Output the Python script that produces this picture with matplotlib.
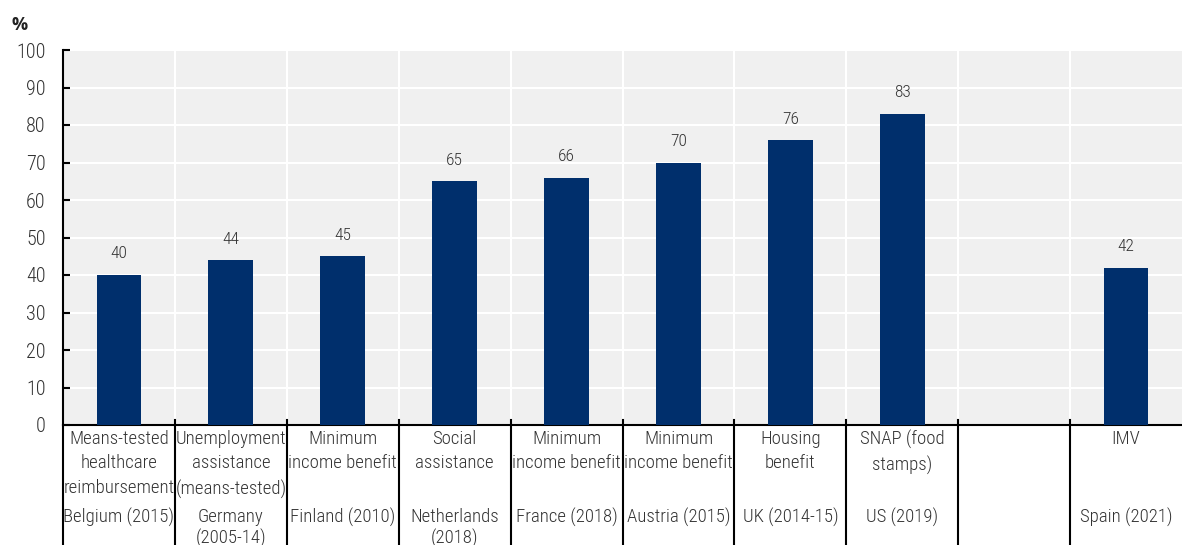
import numpy as np
import matplotlib
matplotlib.use("Agg")
import matplotlib.pyplot as plt

names = ["Means-tested\nhealthcare\nreimbursement", "Unemployment\nassistance\n(means-tested)",
         "Minimum\nincome benefit", "Social\nassistance", "Minimum\nincome benefit",
         "Minimum\nincome benefit", "Housing\nbenefit", "SNAP (food\nstamps)", "", "IMV"]
countries = ["Belgium (2015)", "Germany\n(2005-14)", "Finland (2010)", "Netherlands\n(2018)",
             "France (2018)", "Austria (2015)", "UK (2014-15)", "US (2019)", "", "Spain (2021)"]
values = [40, 44, 45, 65, 66, 70, 76, 83, None, 42]

plt.rcParams["font.family"] = ["Roboto Condensed", "DejaVu Sans"]
plt.rcParams["font.weight"] = "light"

bar_col = "#002f6c"
txt_col = "#333333"

fig = plt.figure(figsize=(11.82, 5.45), dpi=100)
ax = fig.add_axes([63 / 1182, 1 - 425 / 545, 1 - 63 / 1182, 375 / 545])
ax.set_facecolor("#f0f0f0")

n = len(values)
x = np.arange(n)
for i, v in enumerate(values):
    if v is None:
        continue
    ax.bar(x[i], v, width=0.4, color=bar_col, zorder=3)
    ax.text(x[i], v + 3.6, str(v), ha="center", va="bottom", fontsize=12.5, color=txt_col)

ax.set_xlim(-0.5, n - 0.5)
ax.set_ylim(0, 100)
ax.set_yticks(np.arange(0, 101, 10))
ax.tick_params(axis="y", direction="in", length=5, width=1.5, labelsize=14.5, labelcolor=txt_col, pad=12.5)
ax.set_xticks([])
ax.set_xticks(np.arange(0.5, n - 0.5), minor=True)
ax.tick_params(axis="x", which="minor", length=0)
ax.grid(True, axis="y", color="white", linewidth=1.5, zorder=1)
ax.grid(True, axis="x", which="minor", color="white", linewidth=1.5, zorder=1)
for s in ["top", "right"]:
    ax.spines[s].set_visible(False)
ax.spines["left"].set_linewidth(1.5)
ax.spines["bottom"].set_linewidth(1.5)

# separators running below the axis between categories
trans = ax.get_xaxis_transform()
for b in np.arange(0.5, n - 0.5):
    ax.plot([b, b], [0.013, -0.4], transform=trans, color="black", lw=1.5, clip_on=False)
ax.plot([-0.5, -0.5], [0, -0.4], transform=trans, color="black", lw=1.5, clip_on=False)

for i in range(n):
    ax.text(x[i], -0.013, names[i], transform=trans, ha="center", va="top",
            fontsize=13.5, color=txt_col, linespacing=1.47)
    ax.text(x[i], -0.221, countries[i], transform=trans, ha="center", va="top",
            fontsize=13.5, color=txt_col, linespacing=1.2)

fig.text(12 / 1182, 1 - 25 / 545, "%", fontsize=13, fontweight="bold", color="#222222",
         va="center", family=["Open Sans", "DejaVu Sans"])

fig.savefig("out.png", dpi=100)
